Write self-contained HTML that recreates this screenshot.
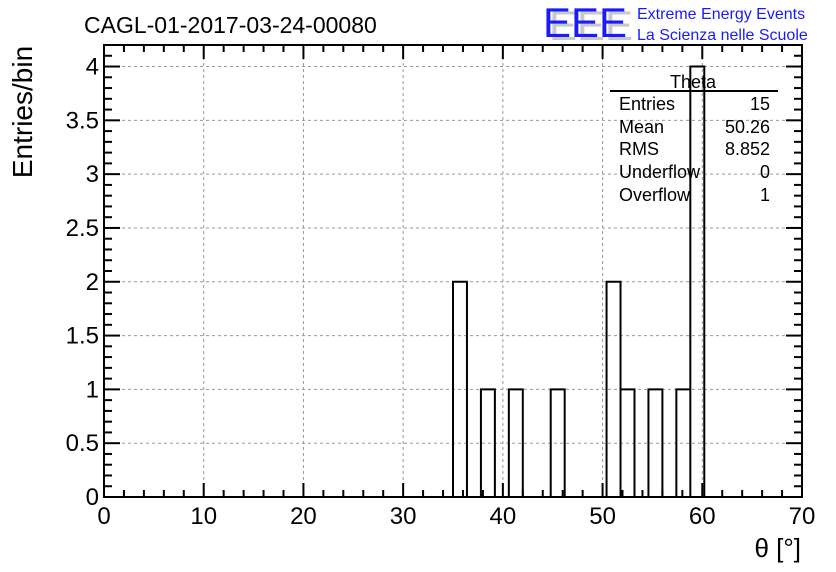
<!DOCTYPE html>
<html><head><meta charset="utf-8"><style>
html,body{margin:0;padding:0;background:#fff;}
svg{display:block;font-family:"Liberation Sans",Arial,sans-serif;}
</style></head><body>
<svg id="chart" width="836" height="572" viewBox="0 0 836 572">
<rect width="836" height="572" fill="#fff"/>
<text x="84" y="33" font-size="23" fill="#000">CAGL-01-2017-03-24-00080</text>
<g>
<text x="549" y="40" font-size="42" fill="#c8c8c8" textLength="84" lengthAdjust="spacingAndGlyphs">EEE</text>
<text x="543" y="37" font-size="42" fill="#1a1aff" textLength="84" lengthAdjust="spacingAndGlyphs">EEE</text>
<text x="637" y="19" font-size="16" fill="#1a1aff">Extreme Energy Events</text>
<text x="637" y="40" font-size="16" fill="#1a1aff">La Scienza nelle Scuole</text>
</g>
<g id="grid"></g>
<g id="bars"></g>
<g id="axes"></g>
<g font-size="18" fill="#000">
<text x="693" y="88" text-anchor="middle">Theta</text>
<line x1="610" y1="91" x2="778" y2="91" stroke="#000" stroke-width="2"/>
<text x="619" y="110">Entries</text><text x="770" y="110" text-anchor="end">15</text>
<text x="619" y="133">Mean</text><text x="770" y="133" text-anchor="end">50.26</text>
<text x="619" y="155">RMS</text><text x="770" y="155" text-anchor="end">8.852</text>
<text x="619" y="178">Underflow</text><text x="770" y="178" text-anchor="end">0</text>
<text x="619" y="201">Overflow</text><text x="770" y="201" text-anchor="end">1</text>
</g>
<text transform="translate(32,112) rotate(-90)" text-anchor="middle" font-size="28">Entries/bin</text>
<text x="801" y="557" text-anchor="end" font-size="26">θ [°]</text>
</svg>
<script>
const binLowEdges = [35, 37.8, 40.6, 44.8, 50.4, 51.8, 54.6, 57.4, 58.8];
const binCounts = [2, 1, 1, 1, 2, 1, 1, 1, 4];
const binWidth = 1.4;
const xTickLabels = ["0","10","20","30","40","50","60","70"];
const yTickLabels = ["0","0.5","1","1.5","2","2.5","3","3.5","4"];

const NS = "http://www.w3.org/2000/svg";
const L = 104, R = 802, T = 45, B = 497;
const xMin = 0, xMax = 70, yMin = 0, yMax = 4.2;
const X = v => L + (v - xMin) / (xMax - xMin) * (R - L);
const Y = v => B - (v - yMin) / (yMax - yMin) * (B - T);
function mk(tag, attrs, parent) {
  const e = document.createElementNS(NS, tag);
  for (const k in attrs) e.setAttribute(k, attrs[k]);
  parent.appendChild(e);
  return e;
}
const grid = document.getElementById("grid");
const axes = document.getElementById("axes");
const bars = document.getElementById("bars");

xTickLabels.forEach(t => {
  const v = parseFloat(t);
  if (v <= xMin || v >= xMax) return;
  const g = mk("line", {x1: X(v), x2: X(v), y1: T, y2: B, stroke: "#999", "stroke-width": 1, "stroke-dasharray": "3,3"}, grid);
  
  
});
yTickLabels.forEach(t => {
  const v = parseFloat(t);
  if (v <= yMin) return;
  const g = mk("line", {x1: L, x2: R, y1: Y(v), y2: Y(v), stroke: "#999", "stroke-width": 1, "stroke-dasharray": "3,3"}, grid);
  
  
});

let d = "";
binLowEdges.forEach((lo, i) => {
  const hi = lo + binWidth;
  d += `M${X(lo)},${Y(0)}V${Y(binCounts[i])}H${X(hi)}V${Y(0)}`;
  const r = mk("rect", {x: X(lo), y: Y(binCounts[i]), width: X(hi) - X(lo), height: Y(0) - Y(binCounts[i]), fill: "none"}, bars);
  
  
});
const p = mk("path", {d: d, fill: "none", stroke: "#000", "stroke-width": 2}, bars);



const fr = mk("rect", {x: L, y: T, width: R - L, height: B - T, fill: "none", stroke: "#000", "stroke-width": 2}, axes);



for (let v = xMin; v <= xMax + 1e-9; v += 2) {
  const major = Math.abs(v % 10) < 1e-9;
  const len = major ? 14 : 7;
  mk("line", {x1: X(v), x2: X(v), y1: B, y2: B - len, stroke: "#000", "stroke-width": 2}, axes);
  mk("line", {x1: X(v), x2: X(v), y1: T, y2: T + len, stroke: "#000", "stroke-width": 2}, axes);
}
xTickLabels.forEach(t => {
  const tx = mk("text", {x: X(parseFloat(t)), y: B + 27, "text-anchor": "middle", "font-size": 24}, axes);
  tx.textContent = t;
  
  
});
for (let v = yMin; v <= yMax + 1e-9; v += 0.1) {
  const major = Math.abs((v * 10) % 5) < 1e-6 || Math.abs((v * 10) % 5 - 5) < 1e-6;
  const len = major ? 16 : 8;
  mk("line", {x1: L, x2: L + len, y1: Y(v), y2: Y(v), stroke: "#000", "stroke-width": 2}, axes);
  mk("line", {x1: R, x2: R - len, y1: Y(v), y2: Y(v), stroke: "#000", "stroke-width": 2}, axes);
}
yTickLabels.forEach(t => {
  const ty = mk("text", {x: L - 5, y: Y(parseFloat(t)) + 8, "text-anchor": "end", "font-size": 24}, axes);
  ty.textContent = t;
  
  
});
</script>
</body></html>
